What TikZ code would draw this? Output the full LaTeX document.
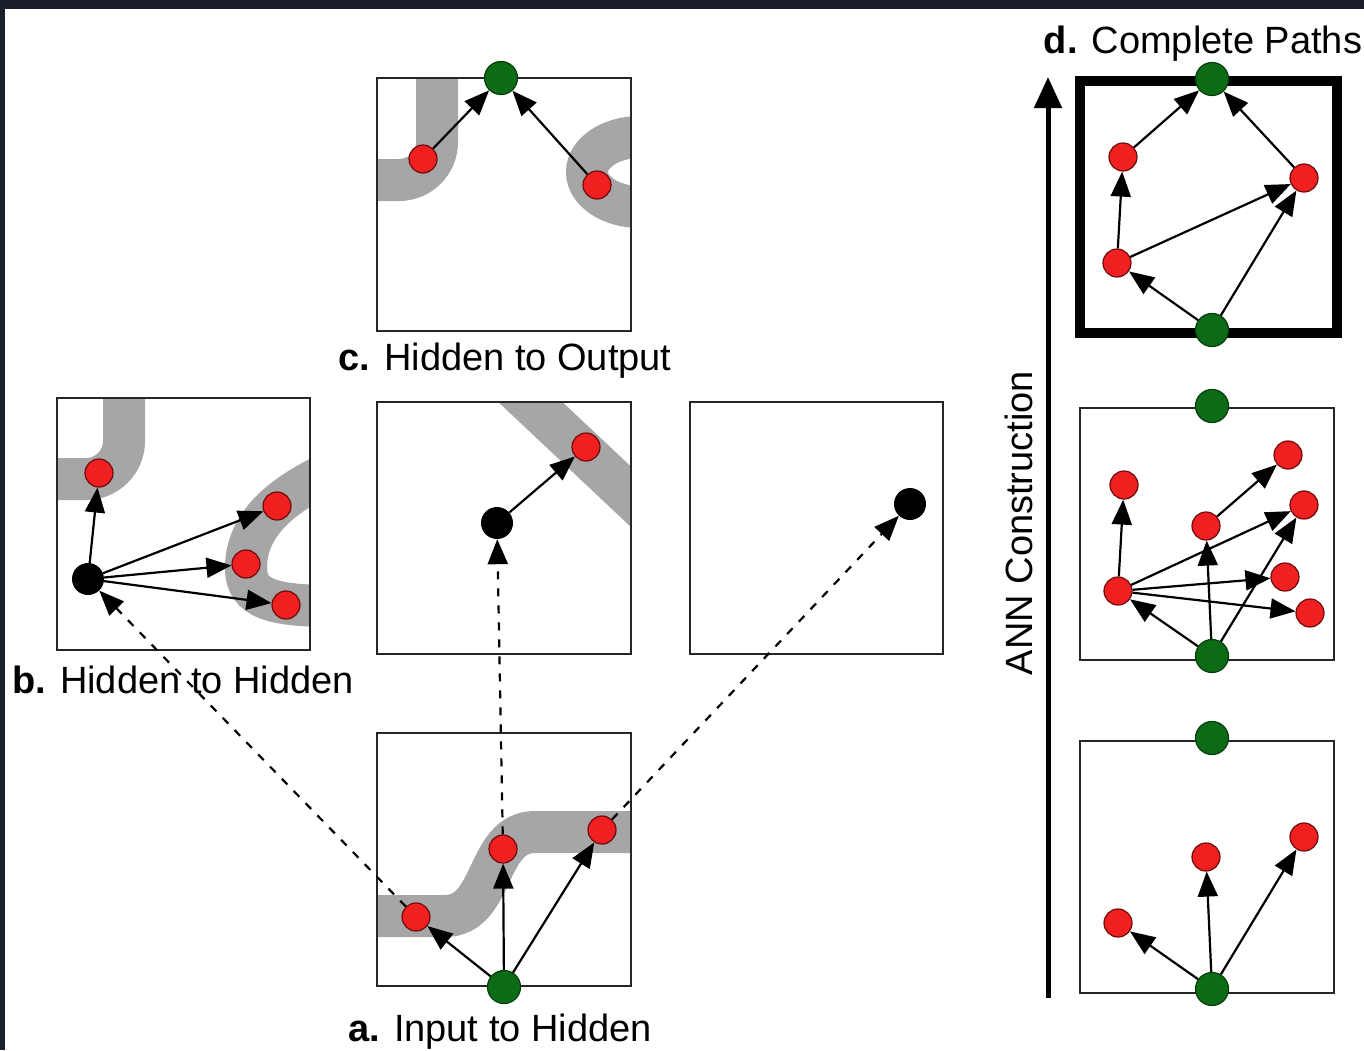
\documentclass[tikz,border=0pt]{standalone}
\usepackage{fontspec}
\setmainfont{Liberation Sans}
\usetikzlibrary{arrows.meta}

\definecolor{framedark}{RGB}{26,31,43}
\definecolor{bandgray}{RGB}{166,166,166}
\definecolor{nred}{RGB}{240,32,32}
\definecolor{nredd}{RGB}{110,10,10}
\definecolor{ngreen}{RGB}{12,108,22}
\definecolor{ngreend}{RGB}{5,60,10}

\tikzset{
  rn/.style={circle, fill=nred, draw=nredd, line width=1.2pt, minimum size=28pt, inner sep=0pt},
  gn/.style={circle, fill=ngreen, draw=ngreend, line width=1.2pt, minimum size=33pt, inner sep=0pt},
  bn/.style={circle, fill=black, minimum size=32pt, inner sep=0pt},
  panel/.style={draw=black!85, line width=2pt},
  band/.style={draw=bandgray, line width=42pt},
  arr/.style={line width=2.2pt, -{Triangle[length=25pt,width=20pt]}},
  darr/.style={arr, dash pattern=on 8pt off 9pt},
  lbl/.style={font=\fontsize{38}{46}\selectfont, anchor=base, inner sep=0pt},
}

\begin{document}
\begin{tikzpicture}[x=1pt, y=-1pt]
\useasboundingbox (0,0) rectangle (1364,1050);
\fill[white] (0,0) rectangle (1364,1050);
% dark frame strips
\fill[framedark] (0,0) rectangle (1364,9);
\fill[framedark] (0,0) rectangle (5,1050);

% ---- gray bands, clipped to their panels ----
\begin{scope}
  \clip (377,78) rectangle (631,331);
  \draw[band] (437,60) -- (437,142) .. controls (437,163) and (420,180) .. (399,180) -- (360,180);
  \draw[band] (640,172) ellipse [x radius=53, y radius=35];
\end{scope}
\begin{scope}
  \clip (57,398) rectangle (310,650);
  \draw[band] (124,380) -- (124,441) .. controls (124,462) and (107,479) .. (86,479) -- (40,479);
  \draw[band] (335,470) .. controls (280,495) and (246,525) .. (246,568)
              .. controls (246,600) and (275,606) .. (335,606);
\end{scope}
\begin{scope}
  \clip (377,402) rectangle (631,654);
  \draw[band, line width=44pt] (490,364) -- (680,543);
\end{scope}
\begin{scope}
  \clip (377,733) rectangle (631,986);
  \draw[band] (360,916) -- (445,916) .. controls (495,916) and (485,832) .. (535,832) -- (650,832);
\end{scope}

% ---- panel frames ----
\draw[panel] (377,78) rectangle (631,331);
\draw[panel] (57,398) rectangle (310,650);
\draw[panel] (377,402) rectangle (631,654);
\draw[panel] (690,402) rectangle (943,654);
\draw[panel] (377,733) rectangle (631,986);
\draw[black, line width=10pt] (1080,81) rectangle (1337,333);
\draw[panel] (1080,408) rectangle (1334,660);
\draw[panel] (1080,741) rectangle (1334,993);

% ---- nodes ----
% c. hidden to output
\node[gn] (gc)  at (501,78) {};
\node[rn] (rc1) at (423,159) {};
\node[rn] (rc2) at (597,185) {};
% b. hidden to hidden
\node[bn] (bb)  at (88,579) {};
\node[rn] (rb1) at (99,473) {};
\node[rn] (rb2) at (277,506) {};
\node[rn] (rb3) at (246,564) {};
\node[rn] (rb4) at (286,605) {};
% middle and right panels
\node[bn] (bm) at (497,523) {};
\node[rn] (rm) at (586,447) {};
\node[bn] (br) at (910,504) {};
% a. input to hidden
\node[gn] (ga)  at (504,987) {};
\node[rn] (ra1) at (416,917) {};
\node[rn] (ra2) at (503,849) {};
\node[rn] (ra3) at (602,830) {};
% d. complete paths, top
\node[gn] (gd1) at (1212,79) {};
\node[gn] (gd0) at (1212,330) {};
\node[rn] (rd1) at (1123,157) {};
\node[rn] (rd2) at (1304,178) {};
\node[rn] (rd3) at (1117,263) {};
% d. middle stage
\node[gn] (gm1) at (1212,406) {};
\node[gn] (gm0) at (1212,656) {};
\node[rn] (m1) at (1124,485) {};
\node[rn] (m2) at (1288,455) {};
\node[rn] (m3) at (1206,526) {};
\node[rn] (m4) at (1304,505) {};
\node[rn] (m5) at (1285,577) {};
\node[rn] (m6) at (1310,613) {};
\node[rn] (m7) at (1118,591) {};
% d. first stage
\node[gn] (gb1) at (1212,738) {};
\node[gn] (gb0) at (1212,989) {};
\node[rn] (b1) at (1118,923) {};
\node[rn] (b2) at (1206,857) {};
\node[rn] (b3) at (1304,837) {};

% ---- connectors ----
\draw[arr] (rc1) -- (gc);
\draw[arr] (rc2) -- (gc);

\draw[arr] (bb) -- (rb1);
\draw[arr] (bb) -- (rb2);
\draw[arr] (bb) -- (rb3);
\draw[arr] (bb) -- (rb4);

\draw[arr] (bm) -- (rm);

\draw[arr] (ga) -- (ra1);
\draw[arr] (ga) -- (ra2);
\draw[arr] (ga) -- (ra3);

\draw[darr] (ra1) -- (bb);
\draw[darr] (ra2) -- (bm);
\draw[darr] (ra3) -- (br);

\draw[arr] (rd1) -- (gd1);
\draw[arr] (rd2) -- (gd1);
\draw[arr] (rd3) -- (rd1);
\draw[arr] (rd3) -- (rd2);
\draw[arr] (gd0) -- (rd3);
\draw[arr] (gd0) -- (rd2);

\draw[arr] (gm0) -- (m7);
\draw[arr] (gm0) -- (m3);
\draw[arr] (gm0) -- (m4);
\draw[arr] (m7) -- (m1);
\draw[arr] (m7) -- (m4);
\draw[arr] (m7) -- (m5);
\draw[arr] (m7) -- (m6);
\draw[arr] (m3) -- (m2);

\draw[arr] (gb0) -- (b1);
\draw[arr] (gb0) -- (b2);
\draw[arr] (gb0) -- (b3);

% construction axis
\coordinate (axb) at (1048,998);
\coordinate (axt) at (1048,77);
\draw[line width=5pt, -{Triangle[length=31pt,width=27pt]}] (axb) -- (axt);
\node[font=\fontsize{38}{46}\selectfont, rotate=90, inner sep=0pt] (axl) at (1019,523) {ANN Construction};

% ---- labels ----
\node[lbl] (lc) at (505,370) {\textbf{c.} Hidden to Output};
\node[lbl] (lb) at (183,693) {\textbf{b.} Hidden to Hidden};
\node[lbl] (la) at (500,1041) {\textbf{a.} Input to Hidden};
\node[lbl] (ld) at (1203,53) {\textbf{d.} Complete Paths};
\end{tikzpicture}
\end{document}
